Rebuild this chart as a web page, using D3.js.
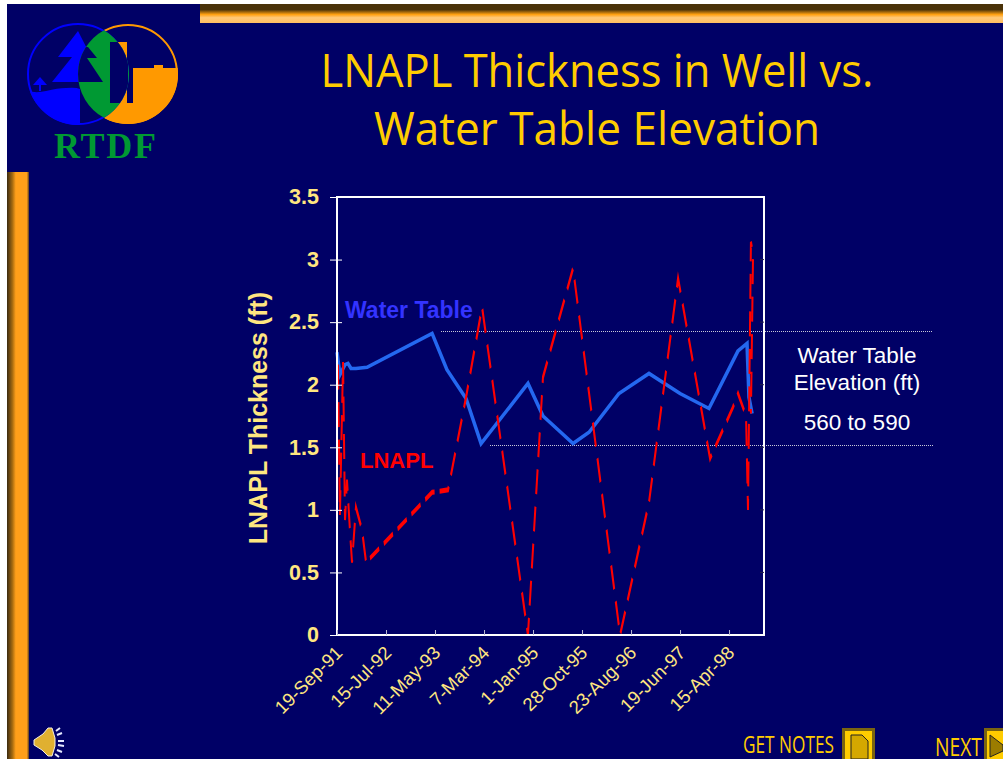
<!DOCTYPE html>
<html>
<head>
<meta charset="utf-8">
<script src="https://cdn.jsdelivr.net/npm/d3@7"></script>
<style>
html, body { margin: 0; padding: 0; background: #fff; overflow: hidden; }
svg { display: block; }
</style>
</head>
<body>
<svg width="1003" height="759"></svg>
<script>
// days since 19-Sep-91
var tickDays = [0, 300, 600, 900, 1200, 1500, 1800, 2100, 2400];
var tickLabels = ["19-Sep-91", "15-Jul-92", "11-May-93", "7-Mar-94", "1-Jan-95", "28-Oct-95", "23-Aug-96", "19-Jun-97", "15-Apr-98"];
var yTicks = [0, 0.5, 1, 1.5, 2, 2.5, 3, 3.5];

var waterDays = [0, 18, 49, 67, 86, 116, 184, 582, 673, 790, 882, 1169, 1261, 1445, 1543, 1726, 1910, 2100, 2277, 2455, 2510, 2522, 2541];
var waterValues = [2.26, 2.08, 2.16, 2.17, 2.13, 2.13, 2.14, 2.41, 2.12, 1.89, 1.53, 2.01, 1.75, 1.53, 1.62, 1.93, 2.09, 1.93, 1.81, 2.27, 2.33, 1.90, 1.77];

var lnaplDays = [6, 18, 37, 49, 61, 80, 92, 116, 153, 178, 582, 680, 790, 888, 1169, 1261, 1445, 1733, 1910, 2088, 2284, 2424, 2455, 2504, 2516, 2534, 2547, 2534];
var lnaplValues = [2.16, 0.96, 2.18, 0.92, 1.24, 0.82, 0.58, 1.02, 0.84, 0.58, 1.14, 1.16, 1.9, 2.62, 0, 2.06, 2.93, 0, 1.06, 2.85, 1.41, 1.82, 1.93, 1.75, 1.0, 3.14, 3.04, 1.77];

var svg = d3.select("svg");
var navy = "#000066", gold = "#ffcc00", pale = "#ffe680";

var defs = svg.append("defs");
function grad(id, vertical, stops) {
    var g = defs.append("linearGradient").attr("id", id)
        .attr("x1", 0).attr("y1", 0).attr("x2", vertical ? 0 : 1).attr("y2", vertical ? 1 : 0);
    stops.forEach(function (s) {
        g.append("stop").attr("offset", s[0]).attr("stop-color", s[1]);
    });
}
grad("barTop", true, [[0, "#4a3208"], [0.3, "#4a3208"], [0.55, "#ffa010"], [0.72, "#ffc878"], [1, "#ffbe60"]]);
grad("barLeft", false, [[0, "#3a2a10"], [0.25, "#a86c10"], [0.4, "#ff9f1a"], [0.9, "#ff9f1a"], [1, "#553a20"]]);

svg.append("rect").attr("width", 1003).attr("height", 759).attr("fill", "#fff");
svg.append("rect").attr("x", 7).attr("y", 4).attr("width", 996).attr("height", 755).attr("fill", navy);
svg.append("rect").attr("x", 200).attr("y", 4).attr("width", 803).attr("height", 19).attr("fill", "url(#barTop)");
svg.append("rect").attr("x", 7).attr("y", 172).attr("width", 22).attr("height", 587).attr("fill", "url(#barLeft)");

drawLogo();

// title
var title = svg.append("g").attr("font-family", "'Open Sans', sans-serif").attr("fill", gold)
    .attr("font-size", 46).attr("text-anchor", "middle");
title.append("text").attr("x", 597).attr("y", 87).attr("textLength", 553).attr("lengthAdjust", "spacingAndGlyphs").text("LNAPL Thickness in Well vs.");
title.append("text").attr("x", 597).attr("y", 145).attr("textLength", 446).attr("lengthAdjust", "spacingAndGlyphs").text("Water Table Elevation");

// plot
var plotLeft = 337, plotRight = 764, plotTop = 197, plotBottom = 635;
var x = d3.scaleLinear().domain([0, 2614]).range([plotLeft, plotRight]);
var y = d3.scaleLinear().domain([0, 3.5]).range([plotBottom, plotTop]);

// dotted guide lines for the elevation range
svg.selectAll(".guide").data([[441, 932, 2.43], [490, 934, 1.52]]).enter().append("line")
    .attr("class", "guide")
    .attr("x1", function (d) { return d[0]; })
    .attr("x2", function (d) { return d[1]; })
    .attr("y1", function (d) { return Math.round(y(d[2])) + 0.5; })
    .attr("y2", function (d) { return Math.round(y(d[2])) + 0.5; })
    .attr("stroke", "#c8c8d8").attr("stroke-width", 1).attr("stroke-dasharray", "1,1");

var waterLine = d3.line()
    .x(function (d) { return x(d); })
    .y(function (d, i) { return y(waterValues[i]); });
svg.append("path")
    .attr("d", waterLine(waterDays))
    .attr("fill", "none").attr("stroke", "#2468f0").attr("stroke-width", 3.5);

// LNAPL is drawn in a squashed group so the dashes stretch like in the original
var stretch = 2.5;
var yStretched = d3.scaleLinear().domain([0, 3.5]).range([plotBottom / stretch, plotTop / stretch]);
var lnaplLine = d3.line()
    .x(function (d) { return x(d); })
    .y(function (d, i) { return yStretched(lnaplValues[i]); });
svg.append("g").attr("transform", "scale(1," + stretch + ")")
    .append("path")
    .attr("d", lnaplLine(lnaplDays))
    .attr("fill", "none").attr("stroke", "#ff0000").attr("stroke-width", 2)
    .attr("stroke-dasharray", "10,5").attr("stroke-linejoin", "miter");

// frame
svg.append("rect").attr("x", plotLeft).attr("y", plotTop).attr("width", plotRight - plotLeft).attr("height", plotBottom - plotTop)
    .attr("fill", "none").attr("stroke", "#fff").attr("stroke-width", 2);

// axes
var yAxis = svg.append("g").attr("transform", "translate(" + plotLeft + ",0)")
    .call(d3.axisLeft(y).tickValues(yTicks).tickFormat(function (d) { return d; }).tickSizeOuter(0));
yAxis.select(".domain").remove();
yAxis.selectAll("line").attr("x1", -7).attr("x2", 5).attr("stroke", "#fff").attr("stroke-width", 1);
yAxis.selectAll("text").attr("x", -18).attr("y", -1).attr("dy", "0.36em")
    .attr("font-family", "'Liberation Sans', sans-serif").attr("font-weight", "bold")
    .attr("font-size", 21.5).attr("fill", pale);

var xAxis = svg.append("g").attr("transform", "translate(0," + plotBottom + ")")
    .call(d3.axisBottom(x).tickValues(tickDays)
        .tickFormat(function (d, i) { return tickLabels[i]; }).tickSizeOuter(0).tickSizeInner(-5));
xAxis.select(".domain").remove();
xAxis.selectAll("line").attr("stroke", "#b8b8d0").attr("stroke-width", 1);
xAxis.selectAll("text")
    .attr("font-family", "'Liberation Sans', sans-serif").attr("font-size", 18.5).attr("fill", pale)
    .attr("text-anchor", "end").attr("dy", 0).attr("y", 0)
    .attr("transform", "translate(6,19) rotate(-45)");

// dim ticks on the right edge
svg.append("g").selectAll("line").data(yTicks.slice(1, 7)).enter().append("line")
    .attr("x1", plotRight - 4).attr("x2", plotRight)
    .attr("y1", function (d) { return y(d); }).attr("y2", function (d) { return y(d); })
    .attr("stroke", "#20204a");

// labels
var sans = "'Liberation Sans', sans-serif";
svg.append("text").attr("transform", "translate(267,418) rotate(-90)").attr("text-anchor", "middle")
    .attr("font-family", sans).attr("font-weight", "bold").attr("font-size", 25).attr("fill", pale)
    .text("LNAPL Thickness (ft)");
svg.append("text").attr("x", 345).attr("y", 318).attr("font-family", sans).attr("font-weight", "bold")
    .attr("font-size", 23).attr("fill", "#3333ff").text("Water Table");
svg.append("text").attr("x", 360).attr("y", 468).attr("font-family", sans).attr("font-weight", "bold")
    .attr("font-size", 22).attr("fill", "#ff0000").text("LNAPL");
[["Water Table", 857, 363], ["Elevation (ft)", 857, 390], ["560 to 590", 857, 430]].forEach(function (t) {
    svg.append("text").attr("x", t[1]).attr("y", t[2]).attr("text-anchor", "middle")
        .attr("font-family", sans).attr("font-size", 22.5).attr("fill", "#fff").text(t[0]);
});

// buttons
svg.append("text").attr("x", 743).attr("y", 753).attr("textLength", 91).attr("lengthAdjust", "spacingAndGlyphs")
    .attr("font-family", "'Open Sans', sans-serif").attr("font-size", 23).attr("fill", gold).text("GET NOTES");
svg.append("text").attr("x", 935).attr("y", 756).attr("textLength", 47).attr("lengthAdjust", "spacingAndGlyphs")
    .attr("font-family", "'Open Sans', sans-serif").attr("font-size", 25).attr("fill", gold).text("NEXT");
svg.append("rect").attr("x", 843.5).attr("y", 729.5).attr("width", 30).attr("height", 32).attr("fill", gold).attr("stroke", "#7a6410").attr("stroke-width", 3);
svg.append("path").attr("d", "M851 735h11l6 6v18h-17z").attr("fill", "#d4a800").attr("stroke", "#222").attr("stroke-width", 1);
svg.append("rect").attr("x", 985.5).attr("y", 729.5).attr("width", 30).attr("height", 32).attr("fill", gold).attr("stroke", "#7a6410").attr("stroke-width", 3);
svg.append("path").attr("d", "M990 735l13 10v6l-13 6z").attr("fill", "#9c7c00").attr("stroke", "#222").attr("stroke-width", 1);

// speaker
var sp = svg.append("g");
sp.append("path").attr("d", "M34 740l9-6 5-6 4 0 3 10 0 8-3 10-4 0-6-6-8-5z").attr("fill", "#e0b030").attr("stroke", "#f4f0e0").attr("stroke-width", 1);
sp.append("path").attr("d", "M56 731l4-3M57 735l5-2M58 741h6M58 745l6 1M57 750l5 2M55 754l4 3")
    .attr("stroke", "#e4e8ff").attr("stroke-width", 2);

function drawLogo() {
    var logo = svg.append("g");
    var c1 = [78, 74], c2 = [128, 74], r1 = 51, r2 = 50;
    var cp = defs.append("clipPath").attr("id", "clipL");
    cp.append("circle").attr("cx", c1[0]).attr("cy", c1[1]).attr("r", r1);
    var cr = defs.append("clipPath").attr("id", "clipR");
    cr.append("circle").attr("cx", c2[0]).attr("cy", c2[1]).attr("r", r2);
    var lens = defs.append("clipPath").attr("id", "clipLens").attr("clip-path", "url(#clipL)");
    lens.append("circle").attr("cx", c2[0]).attr("cy", c2[1]).attr("r", r2);

    // right circle: orange ground and buildings
    logo.append("circle").attr("cx", c2[0]).attr("cy", c2[1]).attr("r", r2 - 1).attr("fill", navy).attr("stroke", "#ff9900").attr("stroke-width", 2);
    logo.append("path").attr("clip-path", "url(#clipR)")
        .attr("d", "M118 42h9v61h6v-35h21v-3h9v3h20v70H100v-35h18z").attr("fill", "#ff9900");
    // left circle: water and trees
    logo.append("circle").attr("cx", c1[0]).attr("cy", c1[1]).attr("r", r1 - 1).attr("fill", navy).attr("stroke", "#0000ff").attr("stroke-width", 2);
    logo.append("path").attr("clip-path", "url(#clipL)")
        .attr("d", "M20 89q14 5 26 2t20-3q10-1 14 1v45H20z").attr("fill", "#0000ff");
    logo.append("path").attr("d", "M78 31l26 51H52l20-25H58z").attr("fill", "#0000ff");
    logo.append("path").attr("d", "M40 77l7 8H33z M39 85h2v6h-2z").attr("fill", "#0000ff");
    // green overlap with tree and tower cut out
    logo.append("rect").attr("clip-path", "url(#clipLens)").attr("x", 70).attr("y", 20).attr("width", 70).attr("height", 110).attr("fill", "#009933");
    logo.append("path").attr("clip-path", "url(#clipLens)").attr("d", "M88 47l9 11h-10l16 24H78V47z").attr("fill", navy);
    logo.append("rect").attr("clip-path", "url(#clipLens)").attr("x", 110).attr("y", 42).attr("width", 18).attr("height", 61).attr("fill", navy);

    logo.append("text").attr("x", 105).attr("y", 158).attr("text-anchor", "middle")
        .attr("font-family", "'Liberation Serif', serif").attr("font-weight", "bold").attr("font-size", 36)
        .attr("textLength", 102).attr("lengthAdjust", "spacing").attr("fill", "#009933").text("RTDF");
}
</script>
</body>
</html>
